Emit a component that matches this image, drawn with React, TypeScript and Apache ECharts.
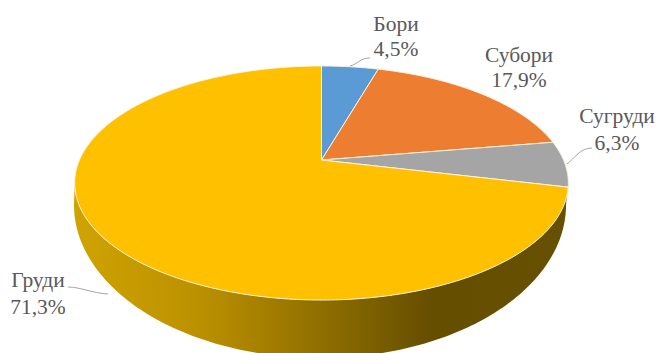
import React, { useEffect, useRef } from "react";
import * as echarts from "echarts";

const categories = ["Бори", "Субори", "Сугруди", "Груди"];
const shares = [4.5, 17.9, 6.3, 71.3];
const sliceColors = ["#5B9BD5", "#ED7D31", "#A5A5A5", "#FFC000"];

// Camera model of the tilted disc: unit circle -> screen.
const APEX_X = 321.5;
const APEX_Y = 160;
const SCALE_X = 242;
const SCALE_Y = 112.5;
const TILT = 0.1966;

// Lower edge of the disc's side wall.
const BASE = { cx: 320, cy: 205, rx: 246, ry: 153 };
// Rim angles where the disc's outline turns, clockwise from the top.
const RIM_RIGHT = 101.3;
const RIM_LEFT = 258.7;

const labelBoxes = [
  { x: 396, y: 24, gap: 25 },
  { x: 519, y: 55, gap: 25 },
  { x: 617, y: 116, gap: 27 },
  { x: 38, y: 280, gap: 27 },
];
const leaders = [
  { x1: 350, y1: 66, cpx1: 358, cpy1: 64, cpx2: 360, cpy2: 58, x2: 370, y2: 58 },
  { x1: 567, y1: 164, cpx1: 575, cpy1: 158, cpx2: 580, cpy2: 148, x2: 592, y2: 148 },
  { x1: 68, y1: 287, cpx1: 80, cpy1: 287, cpx2: 92, cpy2: 293, x2: 108, y2: 294 },
];

const project = (deg: number): number[] => {
  const t = (deg * Math.PI) / 180;
  const u = Math.sin(t);
  const v = Math.cos(t);
  const d = 1 + TILT * v;
  return [APEX_X + (SCALE_X * u) / d, APEX_Y - (SCALE_Y * v) / d];
};

const startOf = (i: number) =>
  (shares.slice(0, i).reduce((a, b) => a + b, 0) / 100) * 360;

const slicePoints = (i: number): number[][] => {
  const from = startOf(i);
  const to = from + (shares[i] / 100) * 360;
  const pts = [[APEX_X, APEX_Y]];
  for (let a = from; a < to; a += 0.5) pts.push(project(a));
  pts.push(project(to));
  return pts;
};

// Side wall: front part of the rim, closed along the lower edge.
const wallPoints = (): number[][] => {
  const pts: number[][] = [];
  for (let a = RIM_RIGHT; a <= RIM_LEFT; a += 0.5) pts.push(project(a));
  for (let a = 180; a <= 360; a += 1) {
    const t = (a * Math.PI) / 180;
    pts.push([BASE.cx + BASE.rx * Math.cos(t), BASE.cy - BASE.ry * Math.sin(t)]);
  }
  return pts;
};

const App = () => {
  const ref = useRef<HTMLDivElement>(null);
  useEffect(() => {
    document.body.style.margin = "0";
    const chart = echarts.init(ref.current, undefined, { renderer: "svg" });
    chart.setOption({
      animation: false,
      backgroundColor: "#ffffff",
      series: [
        {
          type: "custom",
          coordinateSystem: "none",
          silent: true,
          data: [0],
          z: 1,
          renderItem: () => ({
            type: "polygon",
            shape: { points: wallPoints() },
            style: {
              fill: new echarts.graphic.LinearGradient(0, 0, 1, 0, [
                { offset: 0, color: "#CFA300" },
                { offset: 0.25, color: "#BC9100" },
                { offset: 0.52, color: "#8C6C00" },
                { offset: 0.72, color: "#654E00" },
                { offset: 1, color: "#675000" },
              ]),
              stroke: "none",
            },
          }),
        },
        {
          type: "custom",
          coordinateSystem: "none",
          silent: true,
          data: shares,
          z: 2,
          renderItem: (params: any) => {
            const i = params.dataIndex;
            return {
              type: "polygon",
              shape: { points: slicePoints(i) },
              style: { fill: sliceColors[i], stroke: "#FBF3DC", lineWidth: 1 },
            };
          },
        },
        {
          type: "custom",
          coordinateSystem: "none",
          silent: true,
          data: leaders.map((_, i) => i),
          z: 3,
          renderItem: (params: any) => ({
            type: "bezierCurve",
            shape: leaders[params.dataIndex],
            style: { fill: "none", stroke: "#A6A6A6", lineWidth: 1 },
          }),
        },
        {
          type: "custom",
          coordinateSystem: "none",
          silent: true,
          data: shares,
          z: 4,
          renderItem: (params: any) => {
            const i = params.dataIndex;
            const box = labelBoxes[i];
            const font = '21.5px "Liberation Serif"';
            const fill = "#595959";
            return {
              type: "group",
              children: [
                {
                  type: "text",
                  x: box.x,
                  y: box.y,
                  style: { text: categories[i], font, fill, align: "center", verticalAlign: "middle" },
                },
                {
                  type: "text",
                  x: box.x,
                  y: box.y + box.gap,
                  style: {
                    text: `${shares[i].toFixed(1).replace(".", ",")}%`,
                    font,
                    fill,
                    align: "center",
                    verticalAlign: "middle",
                  },
                },
              ],
            };
          },
        },
      ],
    });
    return () => chart.dispose();
  }, []);
  return <div ref={ref} style={{ width: 659, height: 353 }} />;
};

export default App;
